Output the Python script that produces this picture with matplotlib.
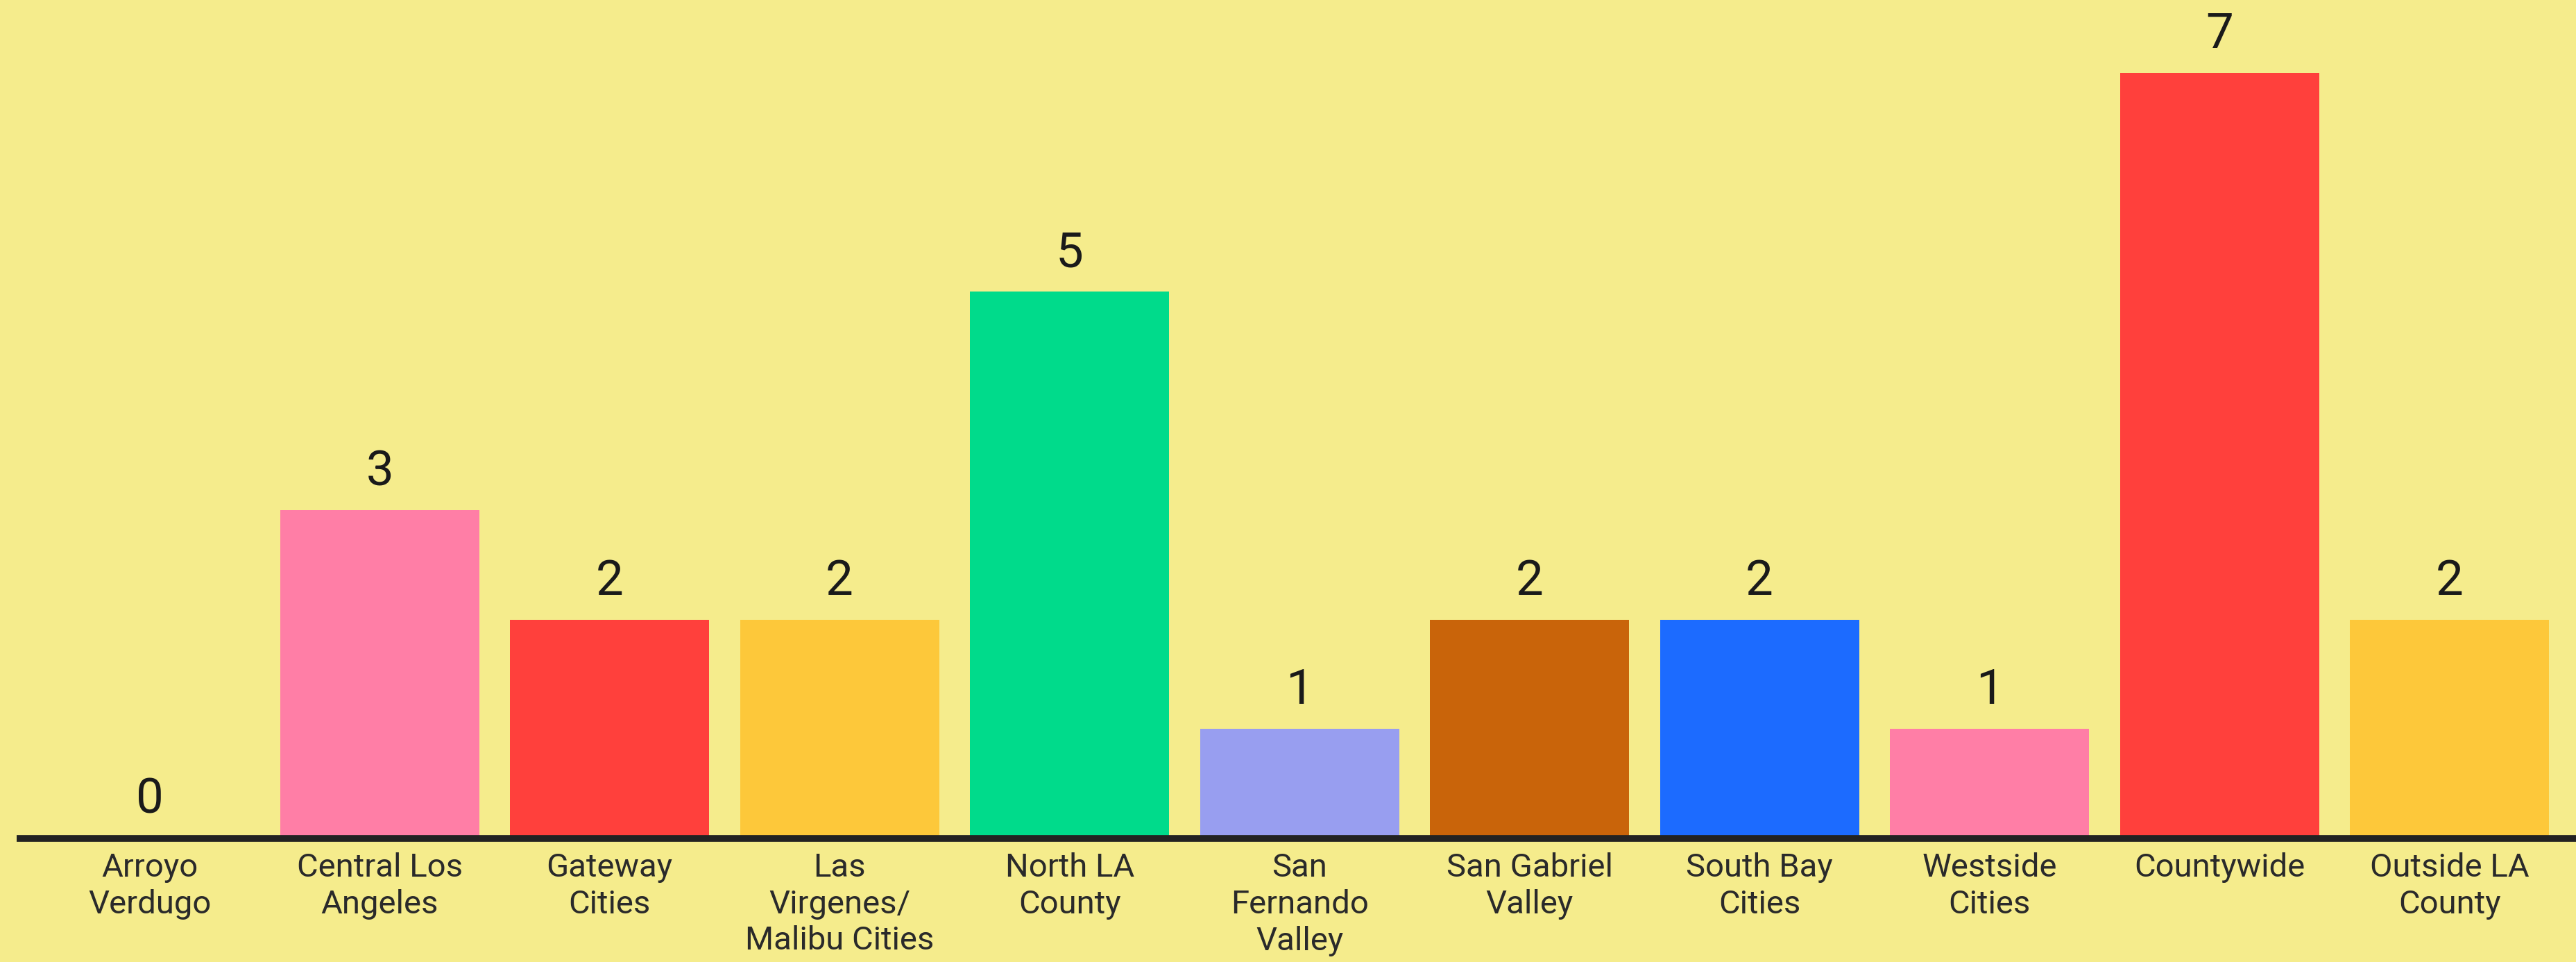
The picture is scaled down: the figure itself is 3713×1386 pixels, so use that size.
import matplotlib
matplotlib.use("Agg")
import matplotlib.pyplot as plt
from matplotlib import transforms

categories = ["Arroyo\nVerdugo", "Central Los\nAngeles", "Gateway\nCities", "Las\nVirgenes/\nMalibu Cities",
              "North LA\nCounty", "San\nFernando\nValley", "San Gabriel\nValley", "South Bay\nCities",
              "Westside\nCities", "Countywide", "Outside LA\nCounty"]
values = [0, 3, 2, 2, 5, 1, 2, 2, 1, 7, 2]
colors = ["#FF7EA6", "#FF7EA6", "#FF403C", "#FDC83A", "#00DB8B", "#989EF0", "#C9640A",
          "#1C6BFF", "#FF7EA6", "#FF403C", "#FDC83A"]

BG = "#F5EC8C"
W, H, DPI = 3713, 1386, 100
fig = plt.figure(figsize=(W / DPI, H / DPI), dpi=DPI, facecolor=BG)
ax = fig.add_axes([10 / 1568, 178 / 1386, 1 - 10 / 1568, 1 - 178 / 1386])
ax.set_facecolor(BG)

x = list(range(len(categories)))
ax.bar(x, values, width=0.865, color=colors, zorder=2)
ax.set_xlim(-0.579, 10.55)
ax.set_ylim(0, 7.665)

for s in ax.spines.values():
    s.set_visible(False)
ax.set_xticks([])
ax.set_yticks([])
ax.axhline(0, color="#222222", lw=7.0, zorder=3, solid_capstyle="butt", clip_on=False)

font = "Roboto"
for xi, v in zip(x, values):
    ax.annotate(str(v), (xi, v), xytext=(0, 22), textcoords="offset pixels",
                ha="center", va="bottom", fontsize=51, color="#1a1a1a", family=font)

lab_tr = transforms.offset_copy(ax.transData, fig=fig, x=0, y=-20, units="dots")
for xi, c in zip(x, categories):
    ax.text(xi, 0, c, transform=lab_tr, ha="center", va="top", fontsize=34,
            color="#2a2a2a", family=font, linespacing=1.25)

fig.savefig("out.png", dpi=DPI, facecolor=BG)
